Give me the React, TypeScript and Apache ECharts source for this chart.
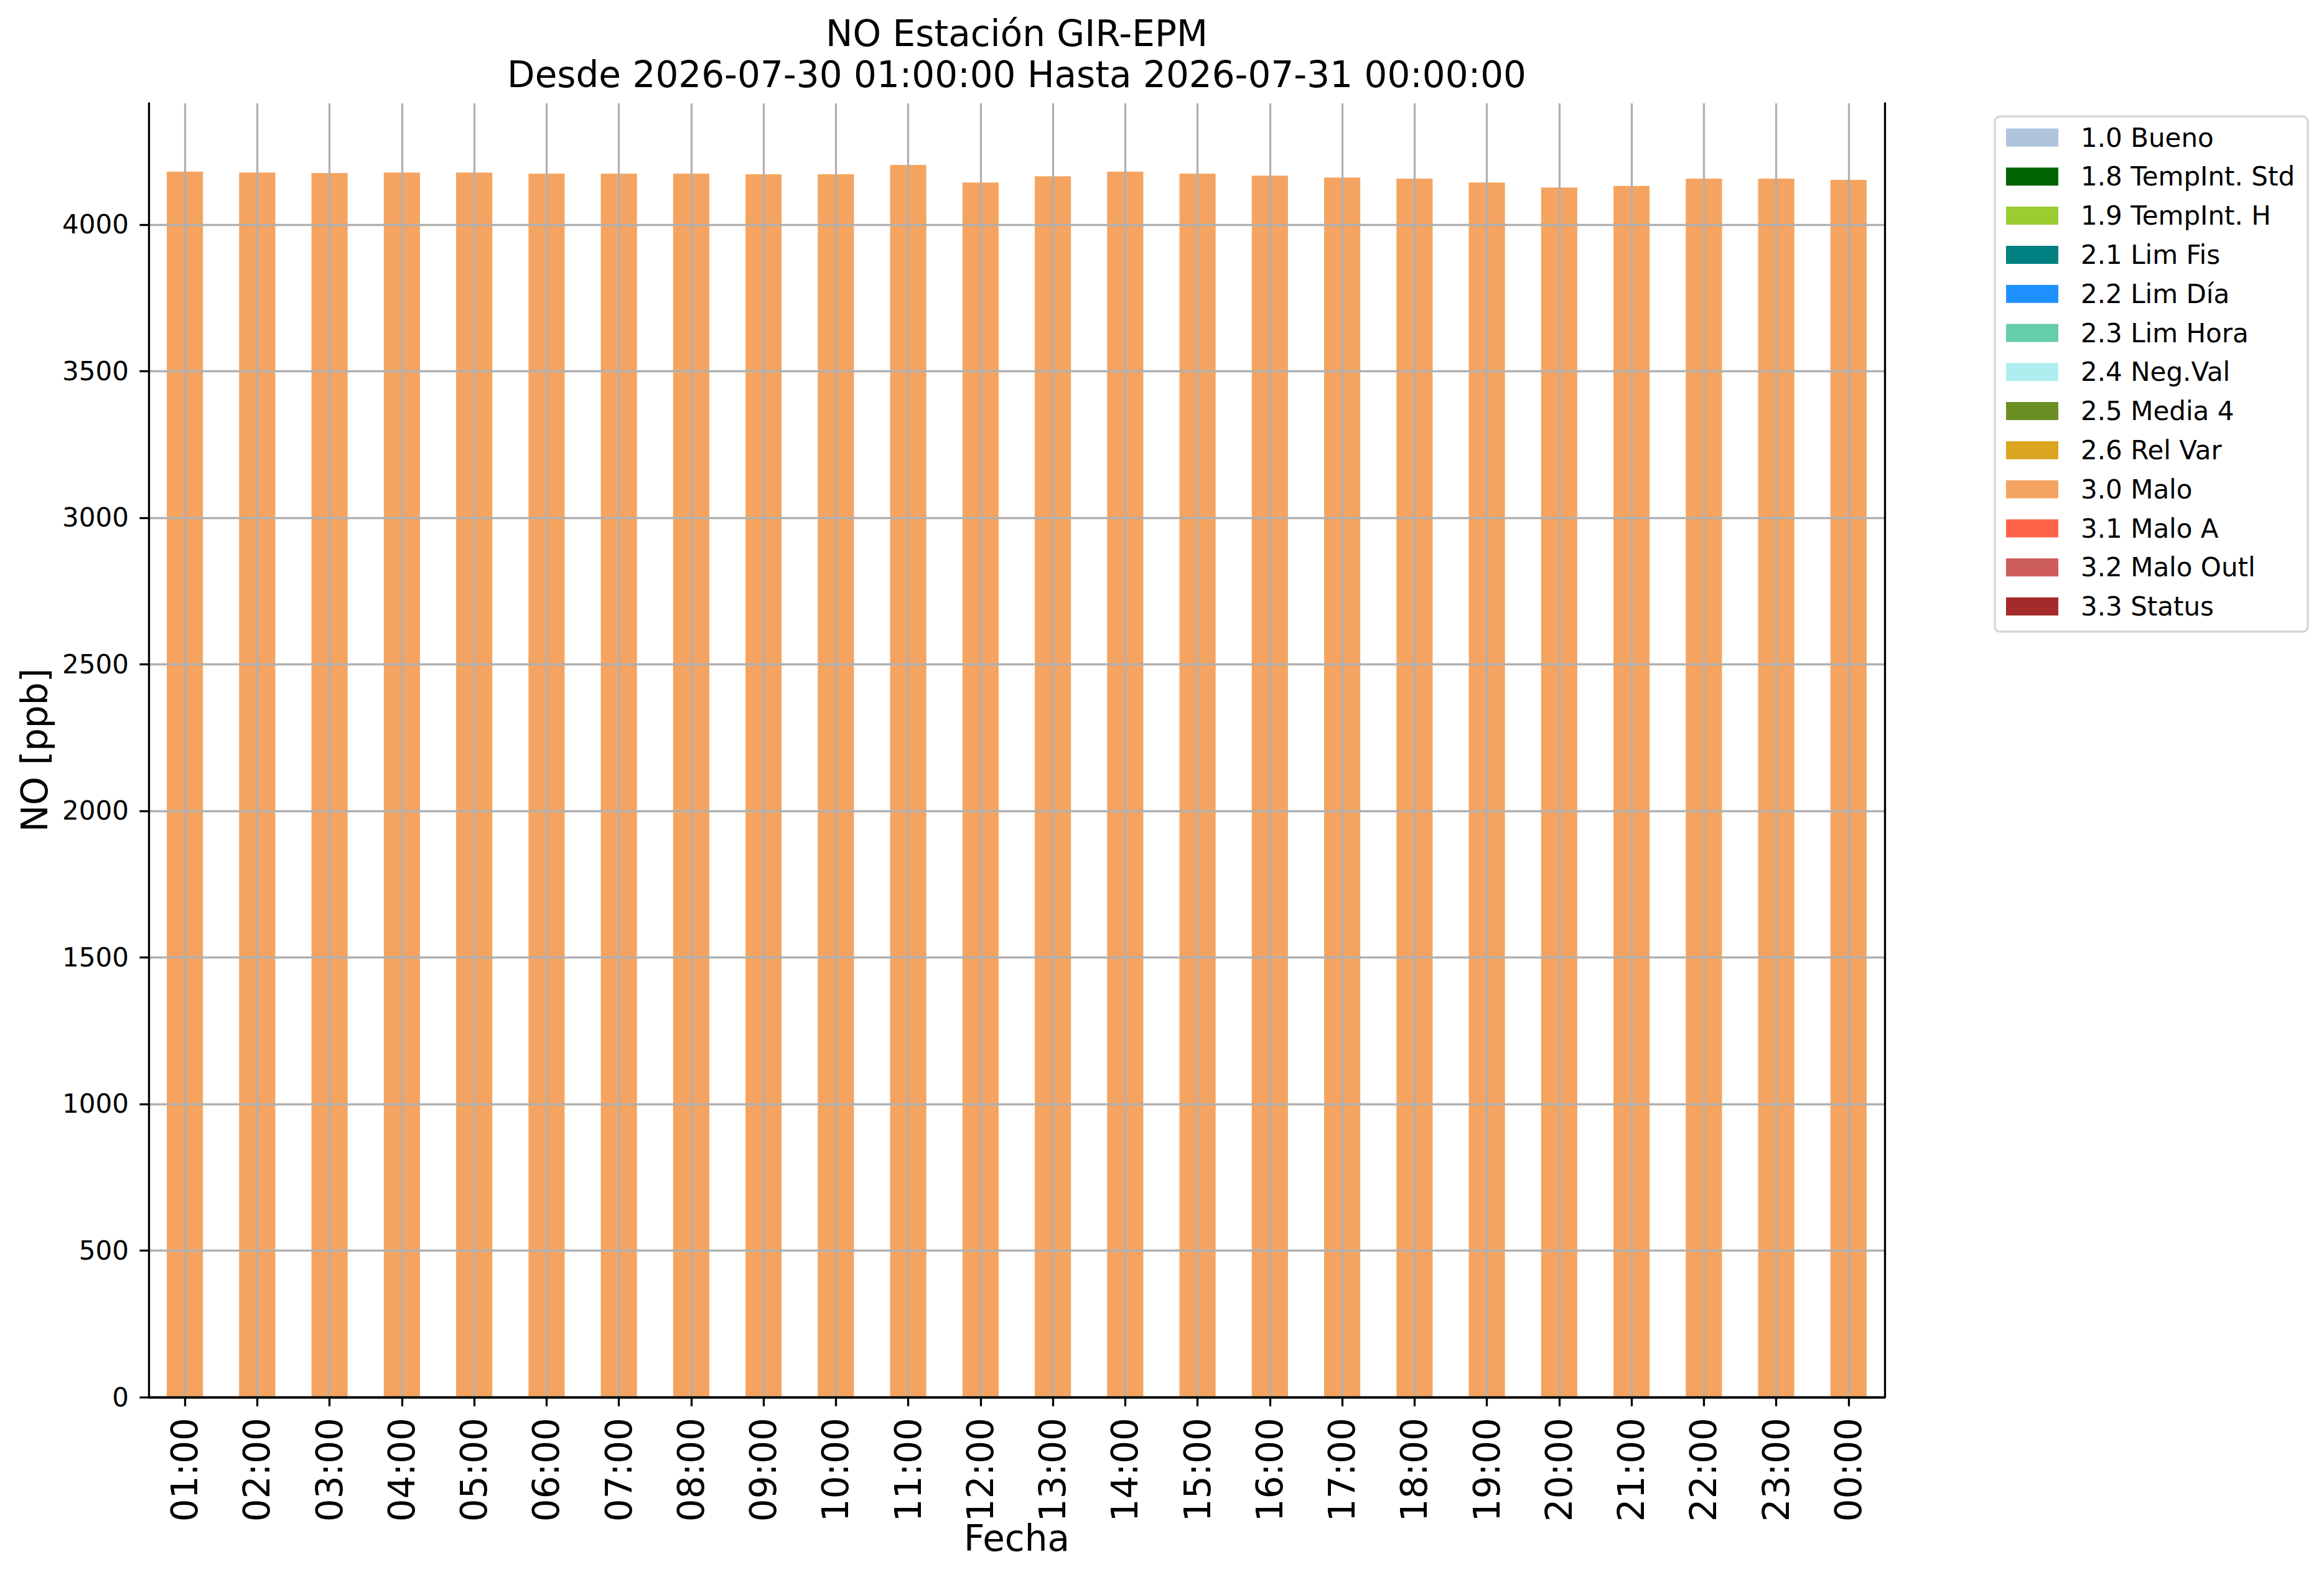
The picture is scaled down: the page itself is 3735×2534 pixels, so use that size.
import React, { useEffect, useRef } from "react";
import * as echarts from "echarts";

const hours = [
  "01:00", "02:00", "03:00", "04:00", "05:00", "06:00", "07:00", "08:00",
  "09:00", "10:00", "11:00", "12:00", "13:00", "14:00", "15:00", "16:00",
  "17:00", "18:00", "19:00", "20:00", "21:00", "22:00", "23:00", "00:00",
];

const maloValues = [
  4181, 4178, 4176, 4178, 4178, 4174, 4174, 4174, 4172, 4172, 4204, 4144,
  4165, 4181, 4174, 4167, 4161, 4157, 4144, 4127, 4132, 4157, 4157, 4153,
];

const flagNames = [
  "1.0 Bueno", "1.8 TempInt. Std", "1.9 TempInt. H", "2.1 Lim Fis",
  "2.2 Lim Día", "2.3 Lim Hora", "2.4 Neg.Val", "2.5 Media 4",
  "2.6 Rel Var", "3.0 Malo", "3.1 Malo A", "3.2 Malo Outl", "3.3 Status",
];

const flagColors = [
  "#B0C4DE", "#006400", "#9ACD32", "#008080", "#1E90FF", "#66CDAA",
  "#AFEEEE", "#6B8E23", "#DAA520", "#F4A460", "#FF6347", "#CD5C5C", "#A52A2A",
];

const yTicks = [0, 500, 1000, 1500, 2000, 2500, 3000, 3500, 4000];
const yMax = 4414;

const titleText = "NO Estación GIR-EPM\nDesde 2026-07-30 01:00:00 Hasta 2026-07-31 00:00:00";

const FONT = "DejaVu Sans";

export default function App() {
  const ref = useRef<HTMLDivElement>(null);

  useEffect(() => {
    document.body.style.margin = "0";
    document.body.style.overflow = "hidden";
    const chart = echarts.init(ref.current!, null, { renderer: "svg" });

    const series = flagNames.map((name, i) => ({
      name,
      type: "bar",
      stack: "total",
      barWidth: "50%",
      itemStyle: { color: flagColors[i] },
      data: name === "3.0 Malo" ? maloValues : [],
      z: 2,
    }));

    const option = {
      animation: false,
      backgroundColor: "#ffffff",
      textStyle: { fontFamily: FONT },
      title: {
        text: titleText,
        left: 1634,
        top: 20.6,
        textAlign: "center",
        padding: 0,
        textStyle: {
          fontFamily: FONT,
          fontSize: 58,
          fontWeight: "normal",
          color: "#000",
          lineHeight: 66,
        },
      },
      legend: {
        orient: "vertical",
        left: 3206,
        top: 187,
        padding: [13, 21, 19.4, 18],
        itemWidth: 84,
        itemHeight: 29,
        itemGap: 20.8,
        icon: "rect",
        selectedMode: false,
        backgroundColor: "#ffffff",
        borderColor: "#d6d6d6",
        borderWidth: 3.3,
        borderRadius: 8,
        data: flagNames,
        textStyle: {
          fontFamily: FONT,
          fontSize: 42,
          color: "#000",
          padding: [0, 0, 0, 31],
        },
      },
      grid: {
        left: 239,
        top: 166,
        right: 706,
        bottom: 289,
        containLabel: false,
      },
      xAxis: [
        {
          type: "category",
          data: hours,
          boundaryGap: true,
          z: 3,
          name: "Fecha",
          nameLocation: "middle",
          nameGap: 198,
          nameMoveOverlap: false,
          nameTextStyle: { fontFamily: FONT, fontSize: 58, color: "#000", lineHeight: 58 },
          axisLine: { show: true, lineStyle: { color: "#000", width: 3.3 } },
          axisTick: {
            show: true,
            alignWithLabel: true,
            length: 14.6,
            lineStyle: { color: "#000", width: 3.3 },
          },
          axisLabel: {
            interval: 0,
            rotate: 90,
            margin: 33,
            fontFamily: FONT,
            fontSize: 58,
            color: "#000",
          },
          splitLine: {
            show: true,
            alignWithLabel: true,
            lineStyle: { color: "#b0b0b0", width: 3.3 },
          },
        },
        {
          type: "category",
          data: hours,
          position: "top",
          z: 4,
          axisLine: { show: true, lineStyle: { color: "#000", width: 3.3 } },
          axisTick: { show: false },
          axisLabel: { show: false },
          splitLine: { show: false },
        },
      ],
      yAxis: [
        {
          type: "value",
          min: 0,
          max: yMax,
          interval: 500,
          z: 3,
          name: "NO [ppb]",
          nameLocation: "middle",
          nameRotate: 90,
          nameGap: 154,
          nameMoveOverlap: false,
          nameTextStyle: { fontFamily: FONT, fontSize: 58, color: "#000", lineHeight: 58 },
          axisLine: { show: true, lineStyle: { color: "#000", width: 3.3 } },
          axisTick: {
            show: true,
            length: 14.6,
            customValues: yTicks,
            lineStyle: { color: "#000", width: 3.3 },
          },
          axisLabel: {
            margin: 32,
            customValues: yTicks,
            fontFamily: FONT,
            fontSize: 42,
            color: "#000",
            formatter: (v: number) => (v % 500 === 0 ? String(v) : ""),
          },
          splitLine: {
            show: true,
            lineStyle: { color: "#b0b0b0", width: 3.3 },
          },
        },
        {
          type: "value",
          min: 0,
          max: yMax,
          interval: 500,
          position: "right",
          z: 4,
          axisLine: { show: true, lineStyle: { color: "#000", width: 3.3 } },
          axisTick: { show: false },
          axisLabel: { show: false },
          splitLine: { show: false },
        },
      ],
      series,
    };

    chart.setOption(option as any);
    return () => chart.dispose();
  }, []);

  return <div ref={ref} style={{ width: 3735, height: 2534 }} />;
}
